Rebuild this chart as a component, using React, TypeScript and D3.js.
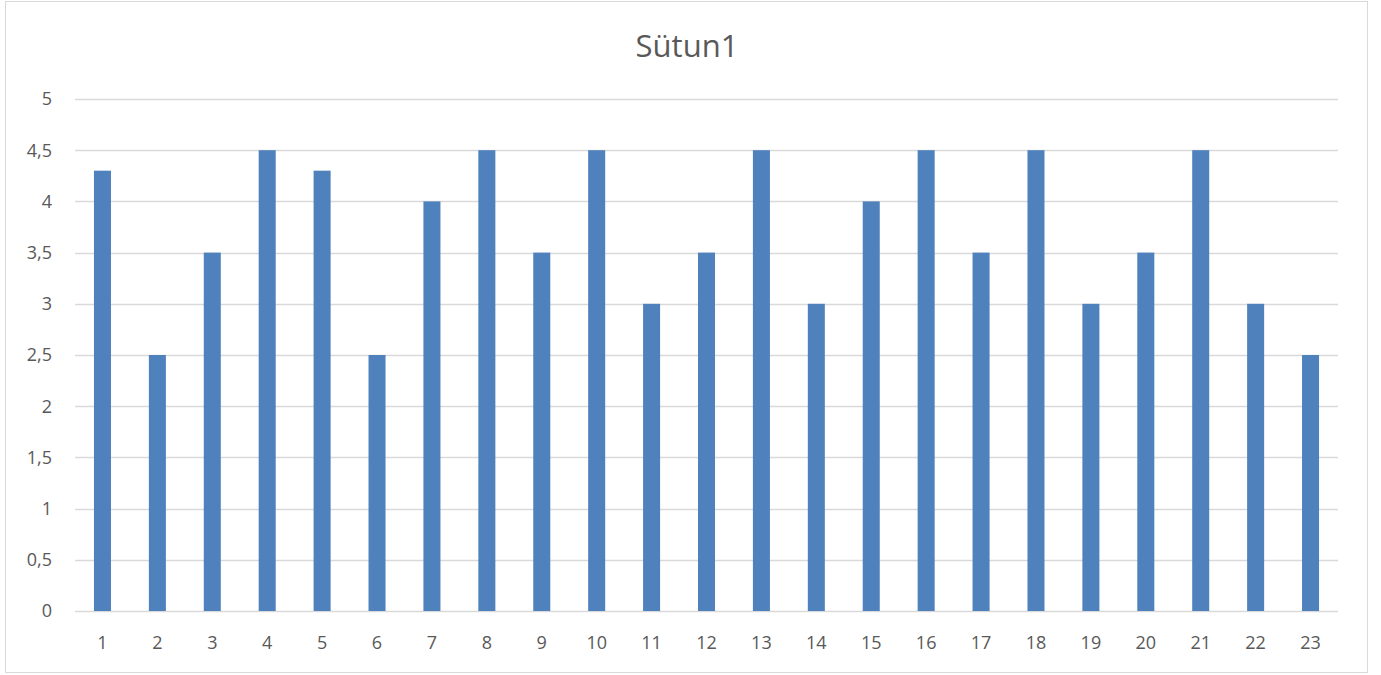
import React, { useEffect, useRef } from 'react';
import * as d3 from 'd3';

const categories = Array.from({ length: 23 }, (_, i) => String(i + 1));
const values = [4.3, 2.5, 3.5, 4.5, 4.3, 2.5, 4, 4.5, 3.5, 4.5, 3, 3.5, 4.5, 3, 4, 4.5, 3.5, 4.5, 3, 3.5, 4.5, 3, 2.5];
const yTicks = [0, 0.5, 1, 1.5, 2, 2.5, 3, 3.5, 4, 4.5, 5];
const title = 'Sütun1';

const App = () => {
  const svgRef = useRef<SVGSVGElement>(null);

  useEffect(() => {
    const svg = d3.select(svgRef.current);
    svg.selectAll('*').remove();

    const font = 'Open Sans, Liberation Sans, sans-serif';
    const left = 75, right = 1338, top = 99, bottom = 611;

    // Chart border
    svg.append('rect')
      .attr('x', 5.5).attr('y', 1.5)
      .attr('width', 1362).attr('height', 671)
      .attr('fill', 'white')
      .attr('stroke', '#d9d9d9');

    const x = d3.scaleBand().domain(categories).range([left, right]).paddingInner(0.69).paddingOuter(0.345);
    const y = d3.scaleLinear().domain([0, 5]).range([bottom, top]);

    // Gridlines
    svg.append('g')
      .selectAll('line')
      .data(yTicks)
      .enter()
      .append('line')
      .attr('x1', left).attr('x2', right)
      .attr('y1', d => Math.round(y(d)) + 0.5)
      .attr('y2', d => Math.round(y(d)) + 0.5)
      .attr('stroke', '#d9d9d9')
      .attr('stroke-width', 1.3);

    // Bars
    svg.append('g')
      .selectAll('rect')
      .data(values)
      .enter()
      .append('rect')
      .attr('x', (d, i) => x(categories[i])!)
      .attr('width', x.bandwidth())
      .attr('y', d => y(d))
      .attr('height', d => y(0) - y(d))
      .attr('fill', '#4f81bd');

    // Y labels
    svg.append('g')
      .selectAll('text')
      .data(yTicks)
      .enter()
      .append('text')
      .attr('x', 52)
      .attr('y', d => y(d))
      .attr('dy', '0.35em')
      .attr('text-anchor', 'end')
      .attr('fill', '#595959')
      .style('font-family', font)
      .style('font-size', '18px')
      .text(d => String(d).replace('.', ','));

    // X labels
    const band = d3.scaleBand().domain(categories).range([left, right]);
    svg.append('g')
      .selectAll('text')
      .data(categories)
      .enter()
      .append('text')
      .attr('x', d => band(d)! + band.bandwidth() / 2)
      .attr('y', 643)
      .attr('dy', '0.35em')
      .attr('text-anchor', 'middle')
      .attr('fill', '#595959')
      .style('font-family', font)
      .style('font-size', '18px')
      .text(d => d);

    // Title
    svg.append('text')
      .attr('x', 687)
      .attr('y', 46)
      .attr('dy', '0.35em')
      .attr('text-anchor', 'middle')
      .attr('fill', '#595959')
      .style('font-family', font)
      .style('font-size', '31px')
      .text(title);
  }, []);

  return (
    <svg ref={svgRef} width={1381} height={675}
      style={{ position: 'absolute', left: 0, top: 0, display: 'block' }} />
  );
};

export default App;
